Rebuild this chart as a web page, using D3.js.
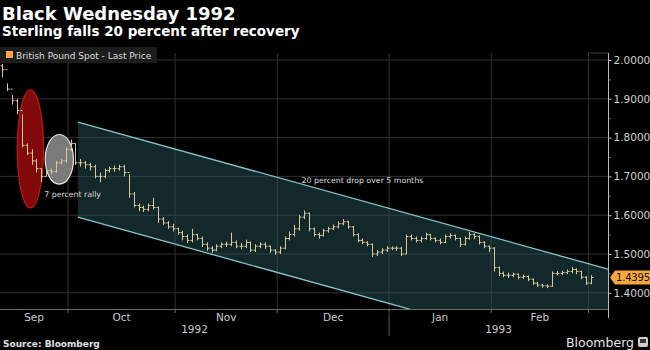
<!DOCTYPE html>
<html>
<head>
<meta charset="utf-8">
<script src="https://cdn.jsdelivr.net/npm/d3@7"></script>
<style>
  body { margin: 0; background: #000; }
  text { font-family: "DejaVu Sans", sans-serif; }
</style>
</head>
<body>
<svg id="chart" width="650" height="350"></svg>
<script>
var width = 650, height = 350;

// GBP/USD daily bars, 11 Sep 1992 - 1 Mar 1993 (weekdays)
var firstOpen = 1.985;
var closes = [1.975, 1.925, 1.895, 1.87, 1.78, 1.76, 1.74, 1.72, 1.70, 1.715,
  1.712, 1.735, 1.74, 1.77, 1.785, 1.735, 1.735, 1.73, 1.725, 1.70,
  1.70, 1.715, 1.72, 1.72, 1.725, 1.71, 1.655, 1.625, 1.62, 1.615,
  1.625, 1.62, 1.59, 1.58, 1.57, 1.565, 1.555, 1.545, 1.535, 1.55,
  1.54, 1.525, 1.515, 1.51, 1.52, 1.525, 1.525, 1.53, 1.52, 1.52,
  1.53, 1.51, 1.52, 1.525, 1.52, 1.51, 1.505, 1.515, 1.54, 1.55,
  1.565, 1.595, 1.605, 1.565, 1.55, 1.548, 1.56, 1.565, 1.57, 1.578,
  1.583, 1.57, 1.55, 1.535, 1.53, 1.525, 1.50, 1.505, 1.51, 1.515,
  1.515, 1.515, 1.50, 1.545, 1.54, 1.535, 1.54, 1.55, 1.54, 1.535,
  1.53, 1.545, 1.548, 1.54, 1.525, 1.54, 1.55, 1.545, 1.53, 1.52,
  1.515, 1.465, 1.45, 1.445, 1.445, 1.448, 1.44, 1.442, 1.435, 1.425,
  1.42, 1.418, 1.417, 1.45, 1.45, 1.452, 1.455, 1.46, 1.455, 1.44,
  1.425, 1.4395];
var highs = [1.99, 1.94, 1.91, 1.90, 1.86, 1.785, 1.77, 1.745, 1.72, 1.72,
  1.72, 1.74, 1.745, 1.775, 1.795, 1.785, 1.745, 1.74, 1.735, 1.73,
  1.71, 1.72, 1.725, 1.728, 1.73, 1.73, 1.705, 1.66, 1.63, 1.625,
  1.63, 1.645, 1.622, 1.595, 1.585, 1.578, 1.568, 1.56, 1.55, 1.565,
  1.552, 1.545, 1.53, 1.52, 1.525, 1.53, 1.532, 1.555, 1.535, 1.528,
  1.537, 1.532, 1.525, 1.53, 1.53, 1.522, 1.512, 1.52, 1.545, 1.558,
  1.575, 1.60, 1.612, 1.607, 1.568, 1.555, 1.565, 1.57, 1.576, 1.584,
  1.59, 1.586, 1.572, 1.553, 1.54, 1.533, 1.527, 1.51, 1.515, 1.52,
  1.52, 1.52, 1.518, 1.55, 1.55, 1.545, 1.545, 1.555, 1.552, 1.543,
  1.54, 1.55, 1.553, 1.55, 1.542, 1.545, 1.557, 1.553, 1.548, 1.533,
  1.522, 1.518, 1.468, 1.455, 1.452, 1.452, 1.45, 1.447, 1.445, 1.437,
  1.428, 1.423, 1.422, 1.455, 1.456, 1.457, 1.46, 1.467, 1.463, 1.457,
  1.443, 1.445];
var lows = [1.955, 1.92, 1.885, 1.86, 1.775, 1.755, 1.73, 1.71, 1.685, 1.70,
  1.705, 1.71, 1.73, 1.735, 1.765, 1.73, 1.725, 1.72, 1.715, 1.695,
  1.685, 1.695, 1.71, 1.712, 1.715, 1.70, 1.645, 1.62, 1.61, 1.608,
  1.61, 1.615, 1.58, 1.575, 1.565, 1.558, 1.55, 1.535, 1.528, 1.53,
  1.535, 1.518, 1.508, 1.503, 1.507, 1.515, 1.518, 1.52, 1.515, 1.512,
  1.515, 1.505, 1.505, 1.515, 1.513, 1.503, 1.498, 1.50, 1.512, 1.535,
  1.545, 1.56, 1.59, 1.558, 1.545, 1.54, 1.545, 1.555, 1.562, 1.566,
  1.574, 1.565, 1.545, 1.53, 1.525, 1.52, 1.492, 1.495, 1.50, 1.505,
  1.51, 1.508, 1.495, 1.50, 1.535, 1.53, 1.53, 1.537, 1.535, 1.53,
  1.525, 1.528, 1.54, 1.535, 1.518, 1.522, 1.537, 1.538, 1.525, 1.515,
  1.505, 1.455, 1.443, 1.44, 1.438, 1.44, 1.435, 1.436, 1.43, 1.42,
  1.415, 1.413, 1.412, 1.415, 1.445, 1.446, 1.448, 1.45, 1.448, 1.435,
  1.42, 1.422];

var priceTicks = [1.4, 1.5, 1.6, 1.7, 1.8, 1.9, 2.0];
var minorTicks = [1.35, 1.45, 1.55, 1.65, 1.75, 1.85, 1.95];
var monthNames = ["Sep", "Oct", "Nov", "Dec", "Jan", "Feb"];
var yearNames = ["1992", "1993"];

// trend channel, in (bar index, price)
var channelIdx = [15.5, 124.5];
var channelUpper = [1.840, 1.461];
var channelLower = [1.595, 1.216];

// highlighted moves: centre index/price, half-width in bars, half-height in price
var ellipses = [
  {cx: 5.75, cy: 1.771, rx: 2.7, ry: 0.152, fill: "#820a0a", stroke: "#c0181c"},
  {cx: 11.7, cy: 1.744, rx: 2.9, ry: 0.064, fill: "#7a7a7a", stroke: "#e6e6e6"}
];
var notes = [
  {i: 8.6, p: 1.648, text: "7 percent rally"},
  {i: 61.5, p: 1.683, text: "20 percent drop over 5 months"}
];

var days = d3.timeDay.range(new Date(1992, 8, 11), new Date(1993, 2, 2))
  .filter(function(d) { return d.getDay() % 6 !== 0; });

var plotTop = 53, plotBottom = 309, plotRight = 608;
var x = d3.scaleLinear().domain([-0.5, 124.5]).range([0, plotRight]);
var y = d3.scaleLinear().domain([1.4, 2.0]).range([292.8, 60]);

var svg = d3.select("#chart");
svg.append("rect").attr("width", width).attr("height", height).attr("fill", "#000");

svg.append("defs").append("clipPath").attr("id", "plotClip")
  .append("rect").attr("x", 0).attr("y", plotTop)
  .attr("width", plotRight).attr("height", plotBottom - plotTop);

// month boundaries
var bounds = [];
days.forEach(function(d, i) {
  if (i > 0 && d.getMonth() !== days[i - 1].getMonth()) bounds.push({i: i - 0.5, date: d});
});

// grid
var grid = svg.append("g");
grid.selectAll(".hg").data(priceTicks).enter().append("line")
  .attr("x1", 0).attr("x2", plotRight)
  .attr("y1", function(d) { return y(d); }).attr("y2", function(d) { return y(d); })
  .attr("stroke", "#303030").attr("stroke-width", 1);
grid.selectAll(".vg").data(bounds).enter().append("line")
  .attr("x1", function(d) { return x(d.i); }).attr("x2", function(d) { return x(d.i); })
  .attr("y1", plotTop).attr("y2", plotBottom)
  .attr("stroke", "#303030").attr("stroke-width", 1);
var lastB = bounds[bounds.length - 1];
grid.append("line").attr("x1", x(lastB.i)).attr("x2", plotRight)
  .attr("y1", plotTop).attr("y2", plotTop).attr("stroke", "#3a3a3a");

// channel
var ch = svg.append("g").attr("clip-path", "url(#plotClip)");
var poly = [[channelIdx[0], channelUpper[0]], [channelIdx[1], channelUpper[1]],
            [channelIdx[1], channelLower[1]], [channelIdx[0], channelLower[0]]];
ch.append("polygon")
  .attr("points", poly.map(function(p) { return x(p[0]) + "," + y(p[1]); }).join(" "))
  .attr("fill", "rgba(45,95,100,0.42)");
[channelUpper, channelLower].forEach(function(line) {
  ch.append("line")
    .attr("x1", x(channelIdx[0])).attr("y1", y(line[0]))
    .attr("x2", x(channelIdx[1])).attr("y2", y(line[1]))
    .attr("stroke", "#86c6c8").attr("stroke-width", 1.3);
});

// ellipses
svg.selectAll(".ell").data(ellipses).enter().append("ellipse")
  .attr("cx", function(d) { return x(d.cx); })
  .attr("cy", function(d) { return y(d.cy); })
  .attr("rx", function(d) { return x(d.rx) - x(0); })
  .attr("ry", function(d) { return y(0) - y(d.ry); })
  .attr("fill", function(d) { return d.fill; })
  .attr("stroke", function(d) { return d.stroke; })
  .attr("stroke-width", 1.2);

// OHLC bars
var barColor = "#d9c898";
svg.append("g").selectAll("path").data(closes).enter().append("path")
  .attr("d", function(c, i) {
    var open = i === 0 ? firstOpen : closes[i - 1];
    var xi = Math.round(x(i)) + 0.5;
    return "M" + xi + "," + y(highs[i]) + "V" + y(lows[i]) +
      "M" + (xi - 2) + "," + y(open) + "H" + xi +
      "M" + xi + "," + y(c) + "H" + (xi + 2);
  })
  .attr("fill", "none").attr("stroke", barColor).attr("stroke-width", 1);

// notes
svg.selectAll(".note").data(notes).enter().append("text")
  .attr("x", function(d) { return x(d.i); })
  .attr("y", function(d) { return y(d.p); })
  .attr("fill", "#dcdcdc").attr("font-size", 7.8)
  .text(function(d) { return d.text; });

// right axis
svg.append("line").attr("x1", plotRight + 0.5).attr("x2", plotRight + 0.5)
  .attr("y1", plotTop).attr("y2", plotBottom + 9).attr("stroke", "#bdbdbd");
var yAxis = svg.append("g").attr("transform", "translate(" + (plotRight + 0.5) + ",0)")
  .call(d3.axisRight(y).tickValues(priceTicks).tickFormat(d3.format(".4f")).tickSize(3).tickPadding(2));
yAxis.select(".domain").remove();
yAxis.selectAll("line").attr("stroke", "#bdbdbd");
yAxis.selectAll("text").attr("fill", "#d0d0d0").attr("font-size", 10.5)
  .attr("font-family", "DejaVu Sans");
var yMinor = svg.append("g").attr("transform", "translate(" + (plotRight + 0.5) + ",0)")
  .call(d3.axisRight(y).tickValues(minorTicks.filter(function(v) { return y(v) < plotBottom; }))
    .tickFormat("").tickSize(2));
yMinor.select(".domain").remove();
yMinor.selectAll("line").attr("stroke", "#8a8a8a");

// last price tag
var lastP = closes[closes.length - 1];
var ly = y(lastP);
svg.append("path")
  .attr("d", "M" + (plotRight + 2) + "," + ly + "L" + (plotRight + 7) + "," + (ly - 7) +
    "H650V" + (ly + 7) + "H" + (plotRight + 7) + "Z")
  .attr("fill", "#f6a63c");
svg.append("text").attr("x", plotRight + 8).attr("y", ly + 3.8)
  .attr("fill", "#111").attr("font-size", 10).attr("textLength", 34)
  .text(d3.format(".4f")(lastP));

// bottom axis
svg.append("line").attr("x1", 0).attr("x2", plotRight).attr("y1", plotBottom + 0.5).attr("y2", plotBottom + 0.5)
  .attr("stroke", "#6a6a6a");
svg.selectAll(".mt").data(bounds).enter().append("line")
  .attr("x1", function(d) { return x(d.i); }).attr("x2", function(d) { return x(d.i); })
  .attr("y1", plotBottom).attr("y2", plotBottom + 4).attr("stroke", "#6a6a6a");
var monthEdges = [x.range()[0]].concat(bounds.map(function(d) { return x(d.i); }));
svg.selectAll(".ml").data(monthNames).enter().append("text")
  .attr("x", function(d, k) { return (monthEdges[k] + monthEdges[k + 1]) / 2; })
  .attr("y", 321).attr("text-anchor", "middle")
  .attr("fill", "#c8c8c8").attr("font-size", 10.5)
  .text(function(d) { return d; });
var yearB = bounds.filter(function(d) { return d.date.getMonth() === 0; })[0];
var yearEdges = [0, x(yearB.i), plotRight];
svg.append("line").attr("x1", x(yearB.i)).attr("x2", x(yearB.i))
  .attr("y1", 314).attr("y2", 336).attr("stroke", "#5a5a5a");
svg.selectAll(".yl").data(yearNames).enter().append("text")
  .attr("x", function(d, k) { return (yearEdges[k] + yearEdges[k + 1]) / 2; })
  .attr("y", 333).attr("text-anchor", "middle")
  .attr("fill", "#c8c8c8").attr("font-size", 10.5)
  .text(function(d) { return d; });

// legend
svg.append("rect").attr("x", 0).attr("y", 47).attr("width", 157).attr("height", 16).attr("fill", "#1d1d1d");
svg.append("rect").attr("x", 6).attr("y", 51).attr("width", 7).attr("height", 7).attr("fill", "#f6a63c");
svg.append("text").attr("x", 16).attr("y", 58.5).attr("fill", "#dedede").attr("font-size", 9)
  .text("British Pound Spot - Last Price");

// titles
svg.append("text").attr("x", 2).attr("y", 20).attr("fill", "#fff")
  .attr("font-size", 18).attr("font-weight", "bold").text("Black Wednesday 1992");
svg.append("text").attr("x", 2).attr("y", 36).attr("fill", "#fff")
  .attr("font-size", 13.5).attr("font-weight", "bold").text("Sterling falls 20 percent after recovery");

// footer
svg.append("text").attr("x", 3).attr("y", 347).attr("fill", "#e0e0e0")
  .attr("font-size", 9).attr("font-weight", "bold").text("Source: Bloomberg");
svg.append("text").attr("x", 634).attr("y", 347).attr("text-anchor", "end").attr("fill", "#e6e6e6")
  .attr("font-size", 12.5).text("Bloomberg");
svg.append("rect").attr("x", 638).attr("y", 337).attr("width", 10).attr("height", 10).attr("rx", 2)
  .attr("fill", "#cfcfcf");
svg.append("rect").attr("x", 640).attr("y", 339).attr("width", 6).attr("height", 4).attr("fill", "#333");
</script>
</body>
</html>
